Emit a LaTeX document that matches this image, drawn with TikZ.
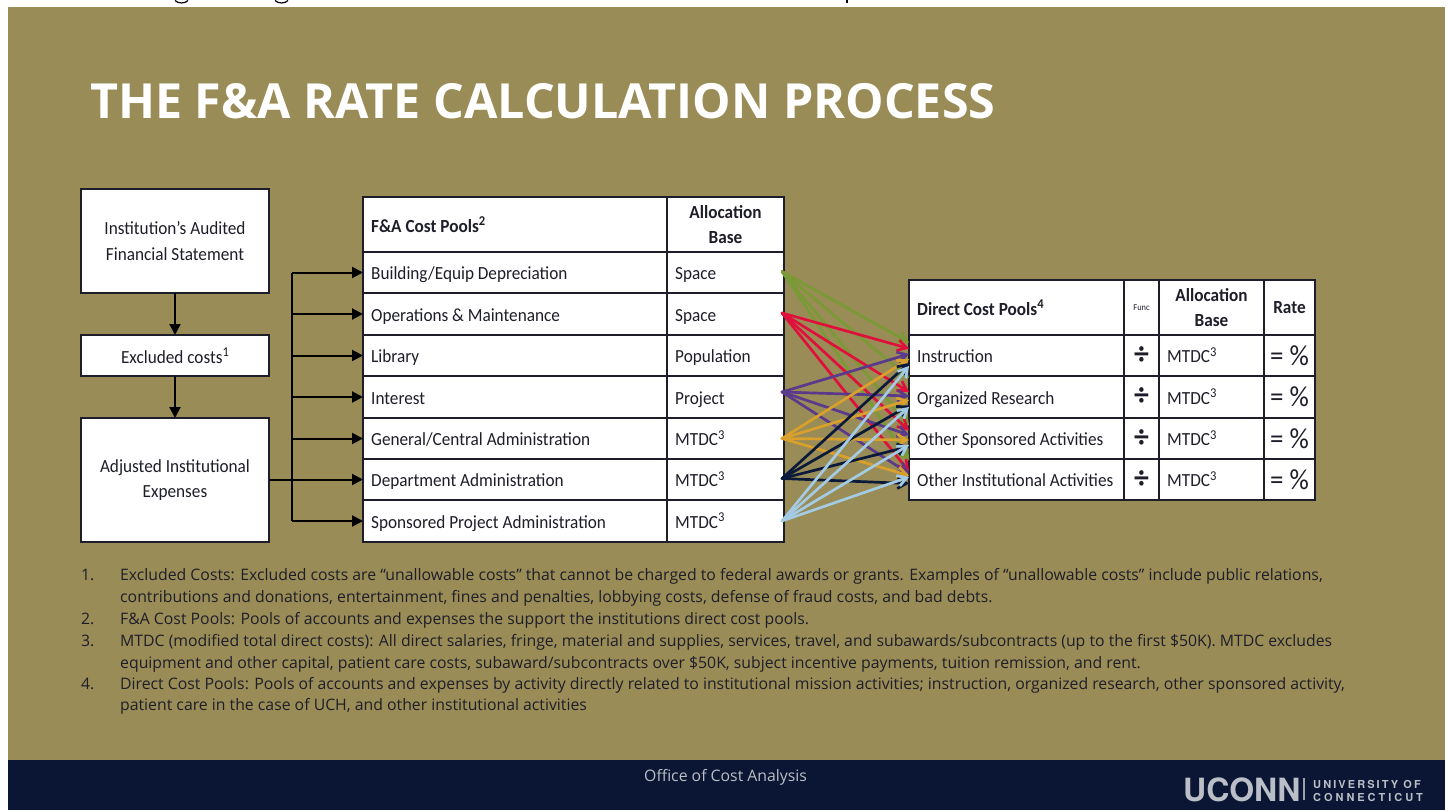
\documentclass[tikz,border=0pt]{standalone}
\usepackage{fontspec}
\setmainfont{Carlito}[FakeStretch=0.93]
\newfontfamily\opensans{Open Sans}
\newfontfamily\heros{TeX Gyre Heros}
\newfontfamily\herosa{TeX Gyre Heros}[LetterSpace=19]
\newfontfamily\herosb{TeX Gyre Heros}[LetterSpace=27]
\usetikzlibrary{arrows.meta}
\definecolor{olive}{HTML}{9A8C56}
\definecolor{navy}{HTML}{0A1633}
\definecolor{ink}{HTML}{1E1E2A}
\definecolor{cgreen}{HTML}{7A9A35}
\definecolor{cred}{HTML}{E0103C}
\definecolor{cpurple}{HTML}{5B3A8C}
\definecolor{corange}{HTML}{D9A02C}
\definecolor{cblack}{HTML}{0B1A3A}
\definecolor{cblue}{HTML}{A4CBE4}
\tikzset{
  x=1pt,y=-1pt,
  cell/.style={draw=ink,line width=1.6pt,fill=white,text=ink,inner sep=0pt,outer sep=0pt,font=\fontsize{18.5}{25.5}\selectfont,align=center},
  flow/.style={draw=black,line width=2pt,-{Triangle[length=11pt,width=11pt]}},
  rate/.style={line width=2.7pt,-{Straight Barb[length=9pt,width=11pt]},line cap=round},
  note/.style={anchor=base west,inner sep=0pt,text=ink,font=\opensans\fontsize{15.8}{18}\selectfont},
}
\newcommand{\rowcell}[7]{% name, x0, x1, y0, y1, style, text
  \node[#6,minimum width=#3pt-#2pt,minimum height=#5pt-#4pt] (#1) at ({(#2+#3)/2},{(#4+#5)/2}) {#7};}
\newcommand{\lefttext}[3]{\node[anchor=base west,inner sep=0pt,text=ink,font=\fontsize{18.5}{22}\selectfont] at ([xshift=8pt,yshift=-7pt]#1.west) {#2#3};}
\newcommand{\supn}[1]{\raisebox{6.5pt}{\fontsize{13.5}{14}\selectfont #1}}
\begin{document}
\begin{tikzpicture}
\useasboundingbox (0,0) rectangle (1450,810);
\fill[white] (0,0) rectangle (1450,810);
\draw[black,line width=1.2pt] (175,0.5) .. controls (178,3.8) and (185,3.8) .. (188,0.5);
\draw[black,line width=1.2pt] (275,0.5) .. controls (278,3.8) and (285,3.8) .. (288,0.5);
\draw[black,line width=1.2pt] (847,0) -- (847,3.5);
\fill[olive] (8,7) rectangle (1445,760);
\fill[navy] (8,760) rectangle (1445,810);
\node[anchor=base west,inner sep=0pt,text=white,font=\opensans\bfseries\fontsize{48.4}{55}\selectfont] (title) at (90,119) {THE F\&A RATE CALCULATION PROCESS};

% left boxes
\rowcell{ia}{81}{269}{189}{293}{cell}{Institution’s Audited\\Financial Statement}
\rowcell{ex}{81}{269}{335}{376}{cell}{Excluded costs\supn{1}}
\rowcell{ad}{81}{269}{418}{542}{cell}{Adjusted Institutional\\Expenses}

% cost pool table
\rowcell{ph}{363}{667}{197}{252}{cell}{}
\rowcell{ab}{667}{784}{197}{252}{cell}{\bfseries Allocation\\\bfseries Base}
\node[anchor=west,inner sep=0pt,text=ink,font=\bfseries\fontsize{18.5}{22}\selectfont] at ([xshift=8pt]ph.west) {F\&A Cost Pools\supn{2}};
\rowcell{p1}{363}{667}{252}{293}{cell}{}
\rowcell{p2}{363}{667}{293}{335}{cell}{}
\rowcell{p3}{363}{667}{335}{376}{cell}{}
\rowcell{p4}{363}{667}{376}{418}{cell}{}
\rowcell{p5}{363}{667}{418}{459}{cell}{}
\rowcell{p6}{363}{667}{459}{500}{cell}{}
\rowcell{p7}{363}{667}{500}{542}{cell}{}
\rowcell{a1}{667}{784}{252}{293}{cell}{}
\rowcell{a2}{667}{784}{293}{335}{cell}{}
\rowcell{a3}{667}{784}{335}{376}{cell}{}
\rowcell{a4}{667}{784}{376}{418}{cell}{}
\rowcell{a5}{667}{784}{418}{459}{cell}{}
\rowcell{a6}{667}{784}{459}{500}{cell}{}
\rowcell{a7}{667}{784}{500}{542}{cell}{}
\lefttext{p1}{Building/Equip Depreciation}{}
\lefttext{p2}{Operations \& Maintenance}{}
\lefttext{p3}{Library}{}
\lefttext{p4}{Interest}{}
\lefttext{p5}{General/Central Administration}{}
\lefttext{p6}{Department Administration}{}
\lefttext{p7}{Sponsored Project Administration}{}
\lefttext{a1}{Space}{}
\lefttext{a2}{Space}{}
\lefttext{a3}{Population}{}
\lefttext{a4}{Project}{}
\lefttext{a5}{MTDC}{\supn{3}}
\lefttext{a6}{MTDC}{\supn{3}}
\lefttext{a7}{MTDC}{\supn{3}}

% direct cost table
\rowcell{dh}{909}{1124}{280}{335}{cell}{}
\node[anchor=west,inner sep=0pt,text=ink,font=\bfseries\fontsize{18.5}{22}\selectfont] at ([xshift=8pt]dh.west) {Direct Cost Pools\supn{4}};
\rowcell{fh}{1124}{1159}{280}{335}{cell,font=\fontsize{9}{10}\selectfont}{Func}
\rowcell{bh}{1159}{1264}{280}{335}{cell}{\bfseries Allocation\\\bfseries Base}
\rowcell{rh}{1264}{1315}{280}{335}{cell,font=\bfseries\fontsize{18.5}{22}\selectfont}{Rate}
\foreach \n/\ya/\yb/\t in {1/335/376/Instruction,2/376/418/Organized Research,3/418/459/Other Sponsored Activities,4/459/500/Other Institutional Activities}{
  \rowcell{d\n}{909}{1124}{\ya}{\yb}{cell}{}
  \rowcell{f\n}{1124}{1159}{\ya}{\yb}{cell,font=\bfseries\fontsize{32}{32}\selectfont}{÷}
  \rowcell{m\n}{1159}{1264}{\ya}{\yb}{cell}{}
  \rowcell{r\n}{1264}{1315}{\ya}{\yb}{cell,font=\fontsize{29}{29}\selectfont}{= \%}
  \lefttext{d\n}{\t}{}
  \lefttext{m\n}{MTDC}{\supn{3}}
}

% flow connectors
\draw[flow] (ia.south) -- (ex.north);
\draw[flow] (ex.south) -- (ad.north);
\coordinate (trunk) at (292,480);
\draw[draw=black,line width=2.4pt] (ad.east |- trunk) -- (trunk);
\draw[draw=black,line width=2pt] (trunk |- p1.west) -- (trunk |- p7.west);
\foreach \n in {1,...,7}{
  \draw[flow] (trunk |- p\n.west) -- (p\n.west);
}

% allocation connectors
\foreach \s/\c/\ys/\oa/\ob/\oc/\od in {
  1/cgreen/1/13/19/13/19,
  2/cred/1/7/5/8/8,
  4/cpurple/5/1.5/1/3.5/6,
  5/corange/0/-3.5/-3/-1.5/4,
  6/cblack/1/-7.5/-8.5/-8/-4,
  7/cblue/0/-10.5/-10/-6.5/2.5}{
  \foreach \t/\o in {1/\oa,2/\ob,3/\oc,4/\od}{
    \draw[rate,\c] ([xshift=-2pt,yshift=\ys pt]a\s.east) -- ([yshift=\o pt,xshift=0pt]d\t.west);
  }
}

% footnotes
\node[note] (n1) at (81,580) {1.};
\node[note] at (120,580) {Excluded Costs: Excluded costs are “unallowable costs” that cannot be charged to federal awards or grants.  Examples of “unallowable costs” include public relations,};
\node[note] at (120,602) {contributions and donations, entertainment, fines and penalties, lobbying costs, defense of fraud costs, and bad debts.};
\node[note] (n2) at (81,624) {2.};
\node[note] at (120,624) {F\&A Cost Pools: Pools of accounts and expenses the support the institutions direct cost pools.};
\node[note] (n3) at (81,646) {3.};
\node[note] at (120,646) {MTDC (modified total direct costs): All direct salaries, fringe, material and supplies, services, travel, and subawards/subcontracts (up to the first \$50K).  MTDC excludes};
\node[note] at (120,668) {equipment and other capital, patient care costs, subaward/subcontracts over \$50K, subject incentive payments, tuition remission, and rent.};
\node[note] (n4) at (81,689) {4.};
\node[note] at (120,689) {Direct Cost Pools: Pools of accounts and expenses by activity directly related to institutional mission activities; instruction, organized research, other sponsored activity,};
\node[note] at (120,710) {patient care in the case of UCH, and other institutional activities};

% footer
\node[anchor=base west,inner sep=0pt,text=white!72!navy,font=\opensans\fontsize{15.8}{17}\selectfont] (foot) at (644,781) {Office of Cost Analysis};
\node[anchor=base west,inner sep=0pt,text=white!72!navy,font=\heros\bfseries\fontsize{32}{32}\selectfont] (uconn) at (1183,801) {UCONN};
\fill[white!60!navy] (1303,778) rectangle (1304.5,800);
\node[anchor=base west,inner sep=0pt,text=white!72!navy,font=\herosa\bfseries\fontsize{11}{12}\selectfont] at (1313,788) {UNIVERSITY OF};
\node[anchor=base west,inner sep=0pt,text=white!72!navy,font=\herosb\bfseries\fontsize{11}{12}\selectfont] at (1313,801) {CONNECTICUT};
\end{tikzpicture}
\end{document}
